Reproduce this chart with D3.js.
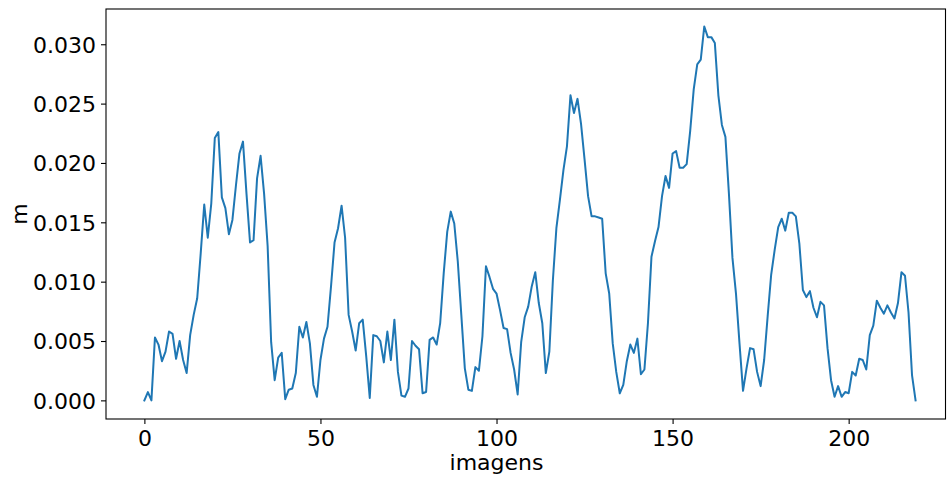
<!DOCTYPE html>
<html>
<head>
<meta charset="utf-8">
<script src="https://cdn.jsdelivr.net/npm/d3@7"></script>
<style>
  body { margin: 0; background: #fff; }
  text { font-family: "DejaVu Sans", sans-serif; fill: #000; }
</style>
</head>
<body>
<div id="chart"></div>
<script>
// values per image, index 0..219
const values = [
  0.0000, 0.0007, 0.0000, 0.0053, 0.0047, 0.0033, 0.0041, 0.0058, 0.0056, 0.0035,
  0.0050, 0.0034, 0.0023, 0.0055, 0.0072, 0.0086, 0.0124, 0.0165, 0.0137, 0.0166,
  0.0221, 0.0226, 0.0171, 0.0162, 0.0140, 0.0152, 0.0181, 0.0208, 0.0218, 0.0174,
  0.0133, 0.0135, 0.0187, 0.0206, 0.0174, 0.0130, 0.0049, 0.0017, 0.0036, 0.0040,
  0.0001, 0.0009, 0.0010, 0.0023, 0.0062, 0.0053, 0.0066, 0.0048, 0.0013, 0.0003,
  0.0034, 0.0052, 0.0062, 0.0096, 0.0133, 0.0145, 0.0164, 0.0137, 0.0072, 0.0058,
  0.0042, 0.0065, 0.0068, 0.0037, 0.0002, 0.0055, 0.0054, 0.0050, 0.0032, 0.0058,
  0.0034, 0.0068, 0.0024, 0.0004, 0.0003, 0.0010, 0.0050, 0.0046, 0.0043, 0.0006,
  0.0007, 0.0051, 0.0053, 0.0047, 0.0065, 0.0107, 0.0142, 0.0159, 0.0149, 0.0117,
  0.0072, 0.0027, 0.0009, 0.0008, 0.0028, 0.0025, 0.0054, 0.0113, 0.0104, 0.0094,
  0.0090, 0.0076, 0.0061, 0.0060, 0.0040, 0.0026, 0.0005, 0.0049, 0.0070, 0.0079,
  0.0096, 0.0108, 0.0082, 0.0065, 0.0023, 0.0041, 0.0101, 0.0145, 0.0169, 0.0194,
  0.0214, 0.0257, 0.0242, 0.0254, 0.0233, 0.0203, 0.0172, 0.0155, 0.0155, 0.0154,
  0.0153, 0.0107, 0.0090, 0.0048, 0.0024, 0.0006, 0.0013, 0.0033, 0.0047, 0.0040,
  0.0052, 0.0022, 0.0026, 0.0065, 0.0121, 0.0134, 0.0146, 0.0172, 0.0189, 0.0179,
  0.0208, 0.0210, 0.0196, 0.0196, 0.0199, 0.0227, 0.0262, 0.0283, 0.0287, 0.0315,
  0.0306, 0.0306, 0.0301, 0.0257, 0.0232, 0.0222, 0.0174, 0.0120, 0.0090, 0.0048,
  0.0008, 0.0027, 0.0044, 0.0043, 0.0024, 0.0012, 0.0034, 0.0071, 0.0106, 0.0127,
  0.0146, 0.0153, 0.0143, 0.0158, 0.0158, 0.0155, 0.0132, 0.0093, 0.0087, 0.0092,
  0.0078, 0.0070, 0.0083, 0.0080, 0.0044, 0.0017, 0.0003, 0.0012, 0.0003, 0.0007,
  0.0006, 0.0024, 0.0021, 0.0035, 0.0034, 0.0026, 0.0055, 0.0063, 0.0084, 0.0078,
  0.0073, 0.0080, 0.0074, 0.0069, 0.0082, 0.0108, 0.0105, 0.0074, 0.0021, 0.0000
];
const xTicks = [0, 50, 100, 150, 200];
const yTicks = [0.000, 0.005, 0.010, 0.015, 0.020, 0.025, 0.030];
const xLabel = 'imagens';
const yLabel = 'm';

const W = 947, H = 482;
const margin = {top: 9, right: 1.5, bottom: 63, left: 106};
const width = W - margin.left - margin.right,
      height = H - margin.top - margin.bottom;

const svg = d3.select('#chart').append('svg')
    .attr('width', W)
    .attr('height', H);

const g = svg.append('g')
    .attr('transform', `translate(${margin.left},${margin.top})`);

const x = d3.scaleLinear().domain([-10.9, 227.5]).range([0, width]);
const y = d3.scaleLinear().domain([-0.00157, 0.03297]).range([height, 0]);

const line = d3.line()
    .x((d, i) => x(i))
    .y(d => y(d));

g.append('path')
    .datum(values)
    .attr('fill', 'none')
    .attr('stroke', '#1f77b4')
    .attr('stroke-width', 2)
    .attr('stroke-linejoin', 'round')
    .attr('stroke-linecap', 'square')
    .attr('d', line);

const xAxis = g.append('g')
    .attr('transform', `translate(0,${height})`)
    .call(d3.axisBottom(x).tickValues(xTicks).tickSize(5).tickPadding(5).tickFormat(d3.format('d')));

const yAxis = g.append('g')
    .call(d3.axisLeft(y).tickValues(yTicks).tickSize(5).tickPadding(5).tickFormat(d3.format('.3f')));

[xAxis, yAxis].forEach(a => {
    a.select('.domain').remove();
    a.selectAll('.tick line').attr('stroke', '#000').attr('stroke-width', 1.1);
    a.selectAll('.tick text').attr('font-size', 22).attr('font-family', '"DejaVu Sans", sans-serif').attr('fill', '#000');
});
xAxis.selectAll('.tick text').attr('dy', '0.76em');
yAxis.selectAll('.tick text').attr('dy', '0.36em');

// frame
g.append('rect')
    .attr('x', 0).attr('y', 0)
    .attr('width', width).attr('height', height)
    .attr('fill', 'none')
    .attr('stroke', '#000')
    .attr('stroke-width', 1.1);

svg.append('text')
    .attr('x', margin.left + x(xTicks[2]) - 0)
    .attr('y', 470)
    .attr('text-anchor', 'middle')
    .attr('font-size', 22)
    .text(xLabel);

svg.append('text')
    .attr('transform', `translate(27,${margin.top + height / 2}) rotate(-90)`)
    .attr('text-anchor', 'middle')
    .attr('font-size', 22)
    .text(yLabel);
</script>
</body>
</html>
